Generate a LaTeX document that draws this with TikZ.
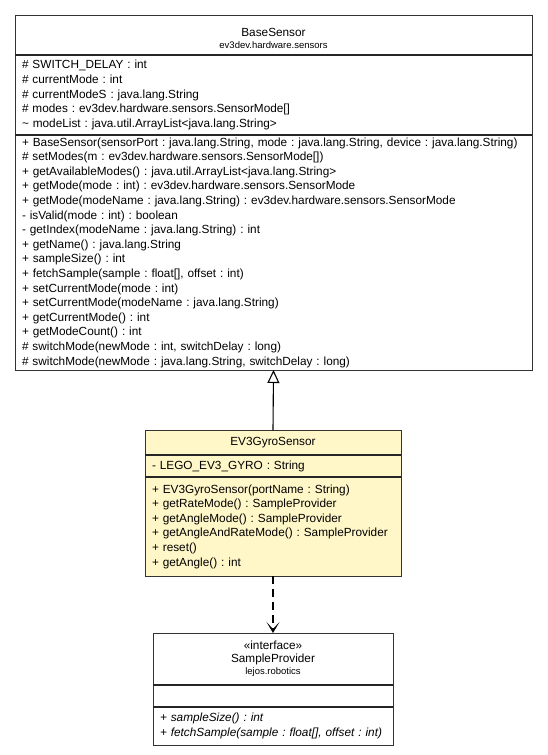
\documentclass[tikz,border=0pt]{standalone}
\usepackage{fontspec}
\setmainfont{Liberation Sans}
\usetikzlibrary{shapes,arrows,arrows.meta,positioning}
\definecolor{gyroyellow}{RGB}{255,247,200}
\frenchspacing

\begin{document}
\begin{tikzpicture}[x=1pt, y=-1pt, node distance=0pt, font=\fontsize{11.8}{14.6}\selectfont]
    \tikzset{
        box/.style      =   { rectangle
                            , draw=black!80
                            , line width=0.8pt
                            , inner xsep=7pt
                            , inner ysep=0pt
                            , outer sep=0pt
                            , align=left
                            , anchor=north
        }
        , head/.style   =   { box
                            , align=center
        }
        , sep/.style    =   { line width=1.6pt
                            , black!85
        }
        , inherit/.style =  { line width=1.1pt
                            , -{Triangle[open, length=13pt, width=12pt]}
        }
        , depend/.style =   { line width=1.2pt
                            , dash pattern=on 8pt off 5pt
                            , -{Stealth[length=11pt, width=13pt, inset=7pt]}
        }
    }
    \useasboundingbox (0,0) rectangle (547,755);

    % BaseSensor
    \node(0)[head, text width=503pt, minimum height=40pt] at (273.5,15)
        {\rule{0pt}{15pt}BaseSensor\\[-2pt]{\fontsize{9.5}{11}\selectfont ev3dev.hardware.sensors}};
    \node(0a)[box, text width=503pt, minimum height=80pt, below=of 0]
        {\# SWITCH\_DELAY : int\\
         \# currentMode : int\\
         \# currentModeS : java.lang.String\\
         \# modes : ev3dev.hardware.sensors.SensorMode[]\\
         \textasciitilde{} modeList : java.util.ArrayList<java.lang.String>};
    \node(0m)[box, text width=503pt, minimum height=235pt, below=of 0a]
        {+ BaseSensor(sensorPort : java.lang.String, mode : java.lang.String, device : java.lang.String)\\
         \# setModes(m : ev3dev.hardware.sensors.SensorMode[])\\
         + getAvailableModes() : java.util.ArrayList<java.lang.String>\\
         + getMode(mode : int) : ev3dev.hardware.sensors.SensorMode\\
         + getMode(modeName : java.lang.String) : ev3dev.hardware.sensors.SensorMode\\
         - isValid(mode : int) : boolean\\
         - getIndex(modeName : java.lang.String) : int\\
         + getName() : java.lang.String\\
         + sampleSize() : int\\
         + fetchSample(sample : float[], offset : int)\\
         + setCurrentMode(mode : int)\\
         + setCurrentMode(modeName : java.lang.String)\\
         + getCurrentMode() : int\\
         + getModeCount() : int\\
         \# switchMode(newMode : int, switchDelay : long)\\
         \# switchMode(newMode : java.lang.String, switchDelay : long)};

    % EV3GyroSensor
    \node(1)[head, fill=gyroyellow, text width=242pt, minimum height=25pt] at (273,430)
        {EV3GyroSensor};
    \node(1a)[box, fill=gyroyellow, text width=242pt, minimum height=22pt, below=of 1]
        {- LEGO\_EV3\_GYRO : String};
    \node(1m)[box, fill=gyroyellow, text width=242pt, minimum height=99pt, below=of 1a]
        {+ EV3GyroSensor(portName : String)\\
         + getRateMode() : SampleProvider\\
         + getAngleMode() : SampleProvider\\
         + getAngleAndRateMode() : SampleProvider\\
         + reset()\\
         + getAngle() : int};

    % SampleProvider
    \node(2)[head, text width=226pt, minimum height=52pt] at (273,633)
        {«interface»\\[-2pt]SampleProvider\\[-2pt]{\fontsize{9.5}{11}\selectfont lejos.robotics}};
    \node(2a)[box, text width=226pt, minimum height=22pt, below=of 2] {};
    \node(2m)[box, text width=226pt, minimum height=38pt, below=of 2a, font=\fontsize{11.8}{14.6}\selectfont\itshape]
        {+ sampleSize() : int\\
         + fetchSample(sample : float[], offset : int)};

    \draw[sep] (0a.north west) -- (0a.north east);
    \draw[sep] (0m.north west) -- (0m.north east);
    \draw[sep] (1a.north west) -- (1a.north east);
    \draw[sep] (1m.north west) -- (1m.north east);
    \draw[sep] (2a.north west) -- (2a.north east);
    \draw[sep] (2m.north west) -- (2m.north east);

    \draw[inherit] (1.north) -- (0m.south);
    \draw[depend]  (1m.south) -- (2.north);
\end{tikzpicture}
\end{document}
